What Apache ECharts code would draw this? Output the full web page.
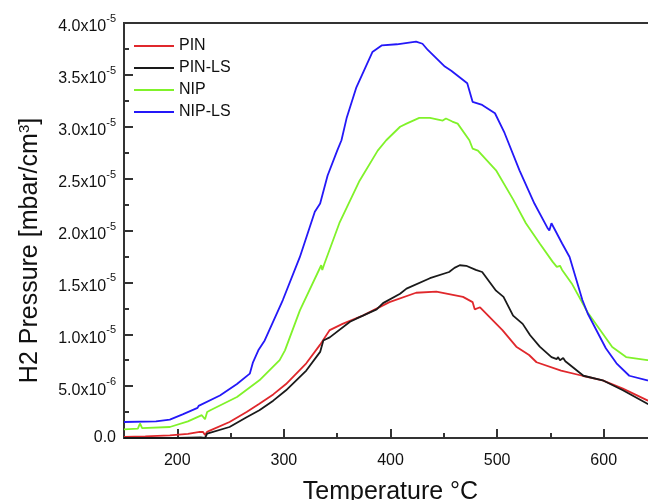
<html>
<head>
    <meta charset="utf-8">
    <script type="text/javascript" src="https://cdn.jsdelivr.net/npm/echarts@6/dist/echarts.min.js"></script>
    <title>h2_pressure</title>
    <style>
        body { margin: 0; background: #fff; }
        #main { width: 648px; height: 500px; }
    </style>
</head>
<body>
<div id="main"></div>
<script type="text/javascript">
    // pressures are in units of 1e-5 mbar/cm3, temperature in °C
    var seriesNames = ['PIN', 'PIN-LS', 'NIP', 'NIP-LS'];
    var xMajorTicks = [200, 300, 400, 500, 600];
    var xMinorTicks = [250, 350, 450, 550, 650];

    var pin = [[150,0.01],[170,0.015],[193,0.026],[210,0.04],[221,0.058],[224,0.06],[226,0.03],[228,0.06],
        [231,0.074],[249,0.154],[265,0.25],[277,0.33],[290,0.42],[302,0.52],[321,0.72],[334,0.9],[343,1.04],
        [355,1.10],[374,1.18],[399,1.31],[424,1.40],[443,1.41],[468,1.36],[477,1.31],[479,1.24],[484,1.26],
        [505,1.04],[518,0.88],[530,0.80],[537,0.73],[560,0.65],[580,0.60],[599,0.556],[618,0.476],[641,0.363],[650,0.32]];

    var pinLs = [[150,0.0],[200,0.0],[222,0.005],[226,0.0],[228,0.042],[249,0.106],[265,0.2],[277,0.267],
        [290,0.36],[302,0.46],[321,0.65],[334,0.83],[337,0.94],[343,0.97],[362,1.12],[368,1.15],[387,1.24],
        [393,1.30],[409,1.39],[415,1.44],[437,1.54],[455,1.60],[460,1.64],[465,1.665],[471,1.66],[480,1.62],
        [486,1.60],[499,1.42],[506,1.36],[515,1.18],[524,1.10],[531,0.99],[540,0.88],[551,0.78],[556,0.76],
        [557,0.78],[559,0.75],[562,0.77],[564,0.74],[581,0.60],[599,0.556],[618,0.46],[641,0.33],[650,0.29]];

    var nip = [[150,0.084],[163,0.09],[165,0.14],[167,0.095],[193,0.106],[210,0.16],[223,0.22],[226,0.18],
        [228,0.25],[231,0.267],[256,0.395],[277,0.556],[296,0.75],[301,0.845],[315,1.23],[335,1.665],[336,1.62],
        [338,1.68],[352,2.07],[371,2.48],[388,2.77],[396,2.87],[409,3.0],[415,3.03],[427,3.085],[437,3.085],
        [449,3.06],[452,3.08],[458,3.05],[463,3.03],[474,2.87],[477,2.79],[482,2.77],[499,2.58],[515,2.30],
        [527,2.07],[540,1.875],[552,1.70],[556,1.65],[559,1.66],[561,1.62],[570,1.49],[585,1.21],[608,0.877],
        [621,0.78],[641,0.75],[650,0.75]];

    var nipLs = [[150,0.154],[180,0.16],[193,0.177],[205,0.228],[219,0.29],[220,0.31],[240,0.41],[256,0.52],
        [268,0.62],[271,0.73],[276,0.845],[282,0.94],[299,1.33],[315,1.745],[329,2.18],[334,2.26],[341,2.53],
        [350,2.77],[354,2.87],[359,3.09],[368,3.38],[383,3.72],[392,3.785],[406,3.795],[424,3.82],[430,3.80],
        [435,3.74],[451,3.58],[457,3.54],[472,3.42],[477,3.24],[486,3.21],[498,3.13],[507,2.94],[521,2.58],
        [535,2.26],[547,2.03],[549,2.0],[551,2.07],[561,1.875],[568,1.745],[580,1.33],[585,1.20],[602,0.865],
        [612,0.72],[624,0.60],[641,0.556],[650,0.55]];

    var colors = ['#e0282c', '#1a1a1a', '#80f22a', '#2418f8'];
    var font = 'Liberation Sans, Arial, sans-serif';

    function yLabel(v) {
        if (v === 0) return '{z|0.0}';
        if (v < 1) return '{b|' + (v * 10).toFixed(1) + 'x10}{s|-6}';
        return '{b|' + v.toFixed(1) + 'x10}{s|-5}';
    }

    var chart = echarts.init(document.getElementById('main'));

    var option = {
        animation: false,
        textStyle: {fontFamily: font},
        grid: {
            left: 124, top: 23, width: 533, height: 415,
            outerBoundsMode: 'none',
            show: true, borderColor: '#333', borderWidth: 2
        },
        legend: {
            orient: 'vertical',
            left: 128, top: 33,
            itemWidth: 40, itemHeight: 14, itemGap: 6,
            itemStyle: {opacity: 0},
            textStyle: {fontSize: 16, color: '#111', fontFamily: font},
            data: seriesNames
        },
        xAxis: [{
            type: 'value', min: 150, max: 650,
            name: 'Temperature °C', nameLocation: 'middle', nameGap: 42,
            nameTextStyle: {fontSize: 25, color: '#111', fontFamily: font},
            axisLine: {lineStyle: {color: '#333', width: 2}},
            axisTick: {inside: true, length: 9, customValues: xMajorTicks, lineStyle: {color: '#333', width: 2}},
            axisLabel: {customValues: xMajorTicks, fontSize: 16, color: '#111', margin: 15},
            splitLine: {show: false}
        }, {
            type: 'value', min: 150, max: 650, position: 'bottom',
            axisLine: {show: false},
            axisTick: {inside: true, length: 5, customValues: xMinorTicks, lineStyle: {color: '#333', width: 2}},
            axisLabel: {show: false},
            splitLine: {show: false}
        }],
        yAxis: {
            type: 'value', min: 0, max: 4, interval: 0.5,
            name: 'H2 Pressure [mbar/cm{s|3}]', nameLocation: 'middle', nameGap: 80,
            nameTextStyle: {
                fontSize: 25, color: '#111', fontFamily: font, padding: [0, 40, 0, 0],
                rich: {s: {fontSize: 15, padding: [0, 0, 12, 0]}}
            },
            axisLine: {lineStyle: {color: '#333', width: 2}},
            axisTick: {inside: true, length: 9, lineStyle: {color: '#333', width: 2}},
            minorTick: {show: true, splitNumber: 2, length: 5, lineStyle: {color: '#333', width: 2}},
            axisLabel: {
                formatter: yLabel, margin: 8,
                rich: {
                    z: {fontSize: 16, color: '#111', fontFamily: font},
                    b: {fontSize: 16, color: '#111', fontFamily: font, padding: [8, 0, 0, 0]},
                    s: {fontSize: 11, color: '#111', fontFamily: font, padding: [0, 0, 8, 0]}
                }
            },
            splitLine: {show: false}
        },
        series: [
            {name: 'PIN', type: 'line', data: pin},
            {name: 'PIN-LS', type: 'line', data: pinLs},
            {name: 'NIP', type: 'line', data: nip},
            {name: 'NIP-LS', type: 'line', data: nipLs}
        ].map(function (s, i) {
            s.symbol = 'none';
            s.color = colors[i];
            s.lineStyle = {width: 1.8, color: colors[i]};
            return s;
        })
    };
    chart.setOption(option);
</script>
</body>
</html>
